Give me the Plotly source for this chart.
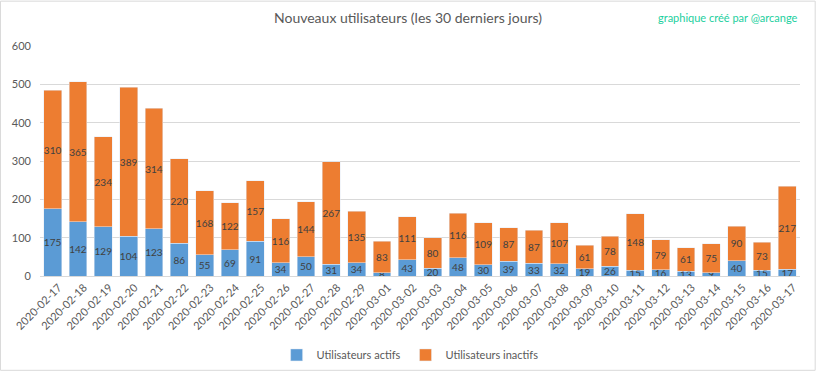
import plotly.graph_objects as go

dates = ["2020-02-17","2020-02-18","2020-02-19","2020-02-20","2020-02-21","2020-02-22","2020-02-23",
         "2020-02-24","2020-02-25","2020-02-26","2020-02-27","2020-02-28","2020-02-29","2020-03-01",
         "2020-03-02","2020-03-03","2020-03-04","2020-03-05","2020-03-06","2020-03-07","2020-03-08",
         "2020-03-09","2020-03-10","2020-03-11","2020-03-12","2020-03-13","2020-03-14","2020-03-15",
         "2020-03-16","2020-03-17"]
actifs = [175,142,129,104,123,86,55,69,91,34,50,31,34,8,43,20,48,30,39,33,32,19,26,15,16,13,9,40,15,17]
inactifs = [310,365,234,389,314,220,168,122,157,116,144,267,135,83,111,80,116,109,87,87,107,61,78,148,79,61,75,90,73,217]

FONT = "Lato"
fig = go.Figure()
fig.add_trace(go.Bar(x=dates, y=actifs, name="Utilisateurs actifs", marker_color="#5B9BD5",
                     text=actifs, textposition="inside", insidetextanchor="middle", textangle=0,
                     textfont=dict(color="#404040", size=10, family=FONT)))
fig.add_trace(go.Bar(x=dates, y=inactifs, name="Utilisateurs inactifs", marker_color="#ED7D31",
                     text=inactifs, textposition="inside", insidetextanchor="middle", textangle=0,
                     textfont=dict(color="#404040", size=10, family=FONT)))
fig.update_layout(
    barmode="stack", bargap=0.29,
    width=816, height=371, margin=dict(l=40, r=16, t=46, b=95, autoexpand=False),
    paper_bgcolor="white", plot_bgcolor="white",
    font=dict(family=FONT, color="#595959", size=11),
    uniformtext=dict(minsize=10, mode="show"),
    title=dict(text="Nouveaux utilisateurs (les 30 derniers jours)", x=0.5, xanchor="center",
               y=0.95, yanchor="middle", font=dict(size=14, color="#595959", family=FONT)),
    legend=dict(orientation="h", x=0.487, xanchor="center", y=-0.28, yanchor="top",
                traceorder="normal",
                font=dict(size=11, color="#595959", family=FONT), itemwidth=30),
    showlegend=True,
)
fig.update_xaxes(type="category", tickangle=-45, showline=True, linecolor="#d9d9d9", ticks="",
                 ticklabelshift=6,
                 automargin=False, tickfont=dict(size=11, color="#595959", family=FONT))
fig.update_yaxes(range=[0, 600], dtick=100, showgrid=True, gridcolor="#d9d9d9", zeroline=False,
                 ticklabelstandoff=8,
                 automargin=False, tickfont=dict(size=11, color="#595959", family=FONT), ticks="")
fig.add_annotation(text="graphique créé par @arcange", xref="paper", yref="paper",
                   x=1.0, y=1.125, xanchor="right", yanchor="middle", showarrow=False,
                   font=dict(size=11, color="#1ccf9e", family=FONT))
fig.add_shape(type="rect", xref="paper", yref="paper", x0=-0.052, x1=1.02, y0=-0.41, y1=1.195,
              line=dict(color="#d9d9d9", width=1))
fig.write_html("out.html", config={"displayModeBar": False},
               post_script="document.body.style.margin='0';")
